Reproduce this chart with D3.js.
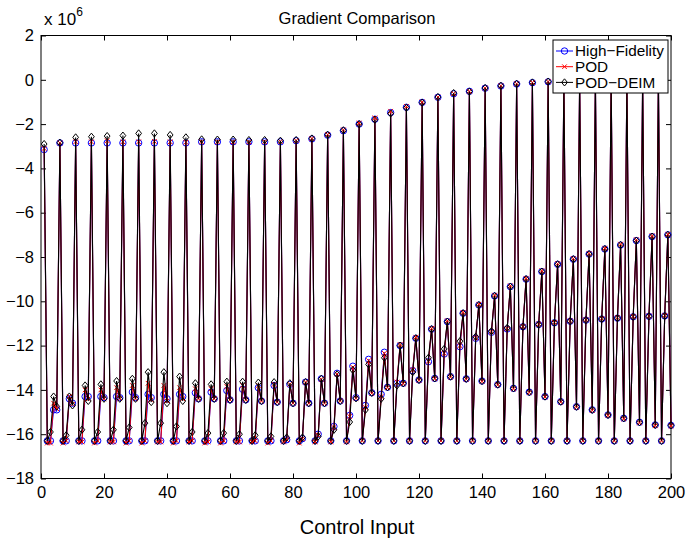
<!DOCTYPE html>
<html lang="en">
<head>
<meta charset="utf-8">
<title>Gradient Comparison</title>
<script src="https://cdnjs.cloudflare.com/ajax/libs/d3/7.8.5/d3.min.js"></script>
<style>
  html, body {margin: 0;padding: 0;background: #fff;}
  svg {display: block;font-family: "Liberation Sans", Arial, Helvetica, sans-serif;}
  .axis path {display: none;}
  .axis line {stroke: #000;stroke-width: 1;}
  .axis text {font-size: 16.5px;fill: #000;}
</style>
</head>
<body>
<div id="chart"></div>
<script>
  // one period = 5 control inputs: top, bottom, low, up, dip
  var xTicks = [0, 20, 40, 60, 80, 100, 120, 140, 160, 180, 200];
  var yTicks = [2, 0, -2, -4, -6, -8, -10, -12, -14, -16, -18];

  // High-Fidelity
  var hfTop = [-3.15, -2.85, -2.85, -2.85, -2.85, -2.85, -2.85, -2.85, -2.85, -2.85,
    -2.8, -2.8, -2.8, -2.8, -2.8, -2.8, -2.75, -2.67, -2.5, -2.3,
    -2.0, -1.78, -1.48, -1.24, -1.02, -0.79, -0.63, -0.52, -0.38, -0.28,
    -0.19, -0.13, -0.09, -0.06, -0.04, -0.03, -0.02, -0.01, 0.0, 0.0];
  var hfBottom = [-16.3, -16.3, -16.3, -16.3, -16.3, -16.3, -16.3, -16.3, -16.3, -16.3,
    -16.3, -16.3, -16.3, -16.3, -16.3, -16.3, -16.3, -16.3, -16.3, -16.3,
    -16.3, -16.3, -16.3, -16.3, -16.3, -16.3, -16.3, -16.3, -16.3, -16.3,
    -16.3, -16.3, -16.3, -16.3, -16.3, -16.3, -16.3, -16.3, -16.3, -16.3];
  var hfLow = [-16.3, -16.3, -16.3, -16.3, -16.3, -16.3, -16.3, -16.3, -16.3, -16.3,
    -16.3, -16.3, -16.3, -16.3, -16.3, -16.25, -16.2, -16.0, -15.65, -15.15,
    -14.7, -14.2, -13.7, -13.13, -12.73, -12.38, -12.05, -11.67, -11.4, -11.25,
    -11.15, -11.05, -10.97, -10.9, -10.85, -10.8, -10.76, -10.7, -10.68, -10.66];
  var hfUp = [-14.9, -14.4, -14.3, -14.3, -14.3, -14.1, -14.2, -14.2, -14.2, -14.13,
    -14.1, -14.03, -13.97, -13.9, -13.8, -13.75, -13.65, -13.5, -13.25, -12.93,
    -12.62, -12.3, -12.0, -11.67, -11.26, -10.92, -10.54, -10.17, -9.76, -9.34,
    -9.0, -8.66, -8.33, -8.1, -7.87, -7.64, -7.46, -7.26, -7.08, -7.0];
  var hfDip = [-14.9, -14.6, -14.3, -14.35, -14.35, -14.35, -14.35, -14.4, -14.3, -14.4,
    -14.4, -14.45, -14.45, -14.5, -14.55, -14.6, -14.6, -14.6, -14.5, -14.35,
    -14.13, -13.88, -13.7, -13.55, -13.48, -13.4, -13.5, -13.6, -13.76, -13.93,
    -14.1, -14.3, -14.53, -14.76, -14.9, -15.13, -15.28, -15.46, -15.58, -15.6];

  // POD
  var podTop = [-3.1, -2.85, -2.8, -2.8, -2.75, -2.8, -2.8, -2.78, -2.8, -2.82,
    -2.8, -2.8, -2.8, -2.8, -2.8, -2.78, -2.74, -2.65, -2.47, -2.26,
    -1.95, -1.72, -1.42, -1.2, -1.0, -0.78, -0.62, -0.52, -0.37, -0.27,
    -0.18, -0.12, -0.08, -0.06, -0.04, -0.03, -0.02, -0.01, 0.0, 0.0];
  var podBottom = [-16.4, -16.4, -16.35, -16.4, -16.35, -16.4, -16.4, -16.35, -16.4, -16.35,
    -16.4, -16.4, -16.35, -16.35, -16.4, -16.35, -16.4, -16.35, -16.35, -16.35,
    -16.3, -16.3, -16.3, -16.3, -16.3, -16.3, -16.3, -16.3, -16.3, -16.3,
    -16.3, -16.3, -16.3, -16.3, -16.3, -16.3, -16.3, -16.3, -16.3, -16.3];
  var podLow = [-16.4, -16.3, -16.35, -16.3, -16.35, -16.3, -16.3, -16.35, -16.3, -16.3,
    -16.35, -16.3, -16.35, -16.3, -16.3, -16.25, -16.2, -16.05, -15.7, -15.2,
    -14.8, -14.3, -13.65, -13.1, -12.7, -12.35, -12.0, -11.65, -11.38, -11.23,
    -11.13, -11.03, -10.95, -10.88, -10.83, -10.78, -10.74, -10.68, -10.66, -10.64];
  var podUp = [-14.6, -14.3, -14.0, -14.0, -13.9, -13.8, -13.7, -13.8, -13.9, -13.95,
    -13.95, -13.85, -13.8, -13.8, -13.75, -13.75, -13.65, -13.52, -13.28, -12.98,
    -12.68, -12.35, -11.95, -11.62, -11.22, -10.88, -10.5, -10.13, -9.72, -9.3,
    -8.96, -8.62, -8.3, -8.07, -7.84, -7.6, -7.42, -7.22, -7.04, -6.97];
  var podDip = [-14.85, -14.65, -14.4, -14.4, -14.4, -14.4, -14.45, -14.5, -14.4, -14.4,
    -14.4, -14.45, -14.45, -14.5, -14.55, -14.6, -14.6, -14.6, -14.5, -14.38,
    -14.15, -13.9, -13.72, -13.57, -13.5, -13.42, -13.52, -13.62, -13.78, -13.95,
    -14.12, -14.32, -14.55, -14.78, -14.93, -15.16, -15.31, -15.49, -15.62, -15.64];

  // POD-DEIM
  var deimTop = [-2.9, -2.84, -2.6, -2.57, -2.54, -2.52, -2.42, -2.42, -2.49, -2.6,
    -2.69, -2.7, -2.7, -2.72, -2.72, -2.75, -2.72, -2.65, -2.48, -2.28,
    -2.0, -1.8, -1.52, -1.26, -1.03, -0.78, -0.6, -0.53, -0.37, -0.27,
    -0.18, -0.12, -0.08, -0.05, -0.03, -0.02, -0.01, 0.0, 0.0, 0.01];
  var deimBottom = [-16.3, -16.3, -16.3, -16.3, -16.3, -16.3, -16.3, -16.3, -16.3, -16.3,
    -16.3, -16.3, -16.3, -16.3, -16.3, -16.3, -16.3, -16.3, -16.3, -16.3,
    -16.3, -16.3, -16.3, -16.3, -16.3, -16.3, -16.3, -16.3, -16.3, -16.3,
    -16.3, -16.3, -16.3, -16.3, -16.3, -16.3, -16.3, -16.3, -16.3, -16.3];
  var deimLow = [-15.9, -16.05, -15.8, -15.9, -15.8, -15.7, -15.5, -15.5, -15.65, -15.9,
    -15.95, -15.95, -16.0, -16.05, -16.1, -16.15, -16.15, -16.1, -15.8, -15.45,
    -14.9, -14.4, -13.8, -13.2, -12.55, -12.15, -11.8, -11.6, -11.35, -11.2,
    -11.15, -11.05, -10.97, -10.9, -10.85, -10.8, -10.76, -10.7, -10.68, -10.66];
  var deimUp = [-14.3, -14.3, -13.8, -13.75, -13.6, -13.5, -13.2, -13.2, -13.4, -13.7,
    -13.75, -13.63, -13.63, -13.67, -13.65, -13.7, -13.65, -13.5, -13.3, -13.1,
    -12.85, -12.55, -12.0, -11.67, -11.26, -10.92, -10.54, -10.17, -9.76, -9.34,
    -9.0, -8.66, -8.33, -8.1, -7.87, -7.64, -7.46, -7.26, -7.08, -7.0];
  var deimDip = [-14.75, -14.7, -14.5, -14.4, -14.4, -14.4, -14.55, -14.6, -14.5, -14.4,
    -14.4, -14.45, -14.45, -14.5, -14.55, -14.6, -14.6, -14.6, -14.5, -14.38,
    -14.13, -13.88, -13.7, -13.55, -13.48, -13.4, -13.5, -13.6, -13.76, -13.93,
    -14.1, -14.3, -14.53, -14.76, -14.9, -15.13, -15.28, -15.46, -15.58, -15.6];

  // put the five phases back in control-input order (x = 1..200)
  function series(top, bottom, low, up, dip) {
    var out = [];
    for (var k = 0; k < top.length; k++) {
      [top[k], bottom[k], low[k], up[k], dip[k]].forEach(function (v, j) {
        out.push({x: 1 + 5 * k + j, y: v});
      });
    }
    return out;
  }

  var seriesList = [
    {name: 'High\u2212Fidelity', color: '#0000ff', marker: 'circle',
      data: series(hfTop, hfBottom, hfLow, hfUp, hfDip)},
    {name: 'POD', color: '#ff0000', marker: 'cross',
      data: series(podTop, podBottom, podLow, podUp, podDip)},
    {name: 'POD\u2212DEIM', color: '#000000', marker: 'diamond',
      data: series(deimTop, deimBottom, deimLow, deimUp, deimDip)}
  ];

  var width = 686, height = 541;
  var plot = {left: 41, right: 671, top: 35.5, bottom: 478.5};

  var x = d3.scaleLinear().domain([0, 200]).range([plot.left, plot.right]);
  var y = d3.scaleLinear().domain([-18, 2]).range([plot.bottom, plot.top]);

  var svg = d3.select('#chart').append('svg')
    .attr('width', width)
    .attr('height', height);

  svg.append('rect').attr('width', width).attr('height', height).attr('fill', '#fff');

  // axes, ticks pointing inward on all four sides
  svg.append('g').attr('class', 'axis')
    .attr('transform', 'translate(0,' + plot.bottom + ')')
    .call(d3.axisBottom(x).tickValues(xTicks).tickSize(-5).tickPadding(8));
  svg.append('g').attr('class', 'axis')
    .attr('transform', 'translate(0,' + plot.top + ')')
    .call(d3.axisTop(x).tickValues(xTicks).tickSize(-5).tickFormat(''));
  svg.append('g').attr('class', 'axis')
    .attr('transform', 'translate(' + plot.left + ',0)')
    .call(d3.axisLeft(y).tickValues(yTicks).tickSize(-5).tickPadding(7));
  svg.append('g').attr('class', 'axis')
    .attr('transform', 'translate(' + plot.right + ',0)')
    .call(d3.axisRight(y).tickValues(yTicks).tickSize(-5).tickFormat(''));

  svg.append('rect')
    .attr('x', plot.left).attr('y', plot.top)
    .attr('width', plot.right - plot.left).attr('height', plot.bottom - plot.top)
    .attr('fill', 'none').attr('stroke', '#000').attr('stroke-width', 1);

  var line = d3.line().x(function (d) { return x(d.x); }).y(function (d) { return y(d.y); });

  function drawMarker(g, type, color, cx, cy) {
    if (type === 'circle') {
      g.append('circle').attr('cx', cx).attr('cy', cy).attr('r', 3.2)
        .attr('fill', 'none').attr('stroke', color).attr('stroke-width', 1);
    } else if (type === 'cross') {
      var s = 2.3;
      g.append('path')
        .attr('d', 'M' + (cx - s) + ',' + (cy - s) + 'L' + (cx + s) + ',' + (cy + s) +
          'M' + (cx - s) + ',' + (cy + s) + 'L' + (cx + s) + ',' + (cy - s))
        .attr('stroke', color).attr('stroke-width', 1).attr('fill', 'none');
    } else {
      var r = 3.6;
      g.append('path')
        .attr('d', 'M' + cx + ',' + (cy - r) + 'L' + (cx + r * 0.8) + ',' + cy + 'L' + cx + ',' + (cy + r) +
          'L' + (cx - r * 0.8) + ',' + cy + 'Z')
        .attr('stroke', color).attr('stroke-width', 1).attr('fill', 'none');
    }
  }

  seriesList.forEach(function (s) {
    var g = svg.append('g');
    g.append('path')
      .datum(s.data)
      .attr('d', line)
      .attr('fill', 'none')
      .attr('stroke', s.color)
      .attr('stroke-width', 1.1);
    s.data.forEach(function (d) {
      drawMarker(g, s.marker, s.color, x(d.x), y(d.y));
    });
  });

  // legend
  var lg = svg.append('g');
  lg.append('rect')
    .attr('x', 553).attr('y', 40).attr('width', 115).attr('height', 53)
    .attr('fill', '#fff').attr('stroke', '#000').attr('stroke-width', 1);
  seriesList.forEach(function (s, i) {
    var ly = 51 + i * 15.7;
    lg.append('line')
      .attr('x1', 556).attr('x2', 573).attr('y1', ly).attr('y2', ly)
      .attr('stroke', s.color).attr('stroke-width', 1);
    drawMarker(lg, s.marker, s.color, 564.5, ly);
    lg.append('text')
      .attr('x', 575).attr('y', ly)
      .attr('dy', '0.35em')
      .style('font-size', '15.3px')
      .text(s.name);
  });

  // title, exponent, axis label
  svg.append('text')
    .attr('x', 357).attr('y', 24)
    .attr('text-anchor', 'middle')
    .style('font-size', '16.5px')
    .text('Gradient Comparison');

  var expo = svg.append('text').attr('x', 44).attr('y', 25).style('font-size', '17px');
  expo.append('tspan').text('x 10');
  expo.append('tspan').attr('dy', -9).style('font-size', '12px').text('6');

  svg.append('text')
    .attr('x', 357).attr('y', 534)
    .attr('text-anchor', 'middle')
    .style('font-size', '20px')
    .text('Control Input');
</script>
</body>
</html>
